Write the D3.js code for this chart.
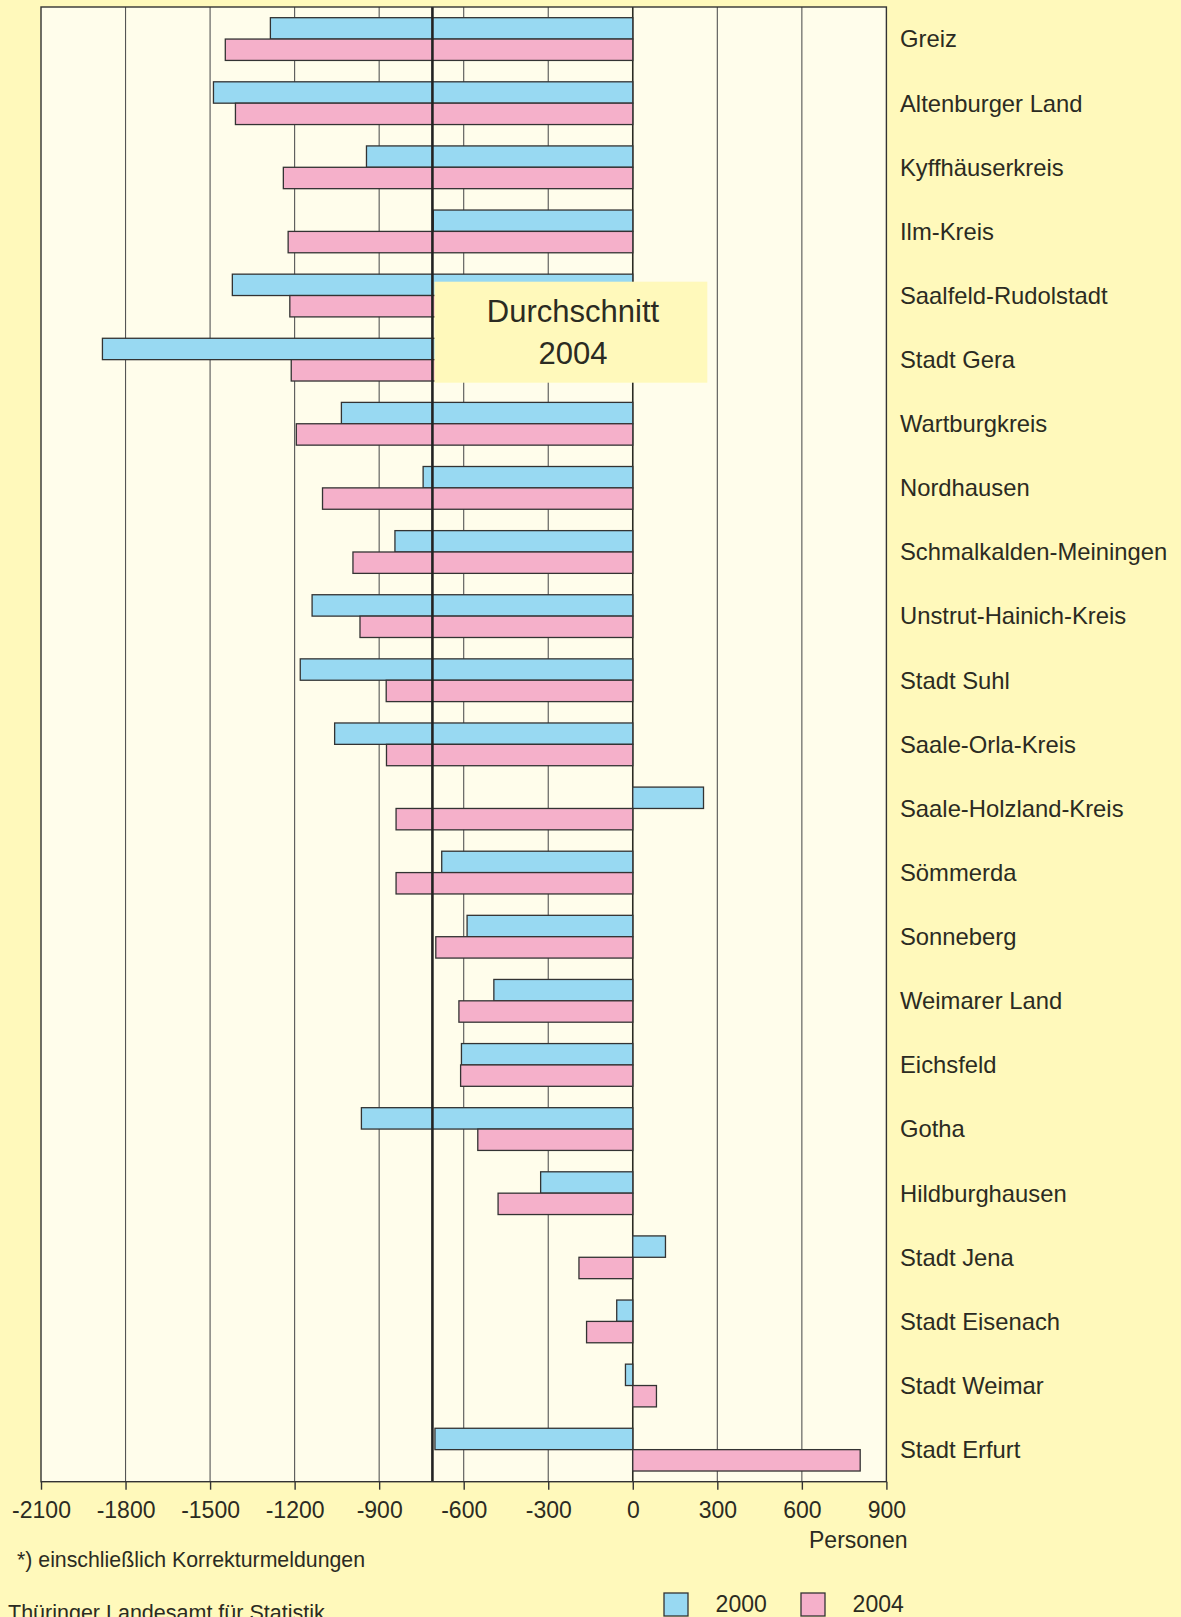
<!DOCTYPE html>
<html>
<head>
<meta charset="utf-8">
<script src="https://cdn.jsdelivr.net/npm/d3@7"></script>
<style>
  body { margin: 0; background: #fff9bb; }
  svg { display: block; font-family: "Liberation Sans", Arial, Helvetica, sans-serif; }
</style>
</head>
<body>
<div id="chart"></div>
<script>
// Wanderungssaldo nach Kreisen, 2000 und 2004
var categories = ["Greiz", "Altenburger Land", "Kyffhäuserkreis", "Ilm-Kreis",
  "Saalfeld-Rudolstadt", "Stadt Gera", "Wartburgkreis", "Nordhausen",
  "Schmalkalden-Meiningen", "Unstrut-Hainich-Kreis", "Stadt Suhl", "Saale-Orla-Kreis",
  "Saale-Holzland-Kreis", "Sömmerda", "Sonneberg", "Weimarer Land", "Eichsfeld",
  "Gotha", "Hildburghausen", "Stadt Jena", "Stadt Eisenach", "Stadt Weimar", "Stadt Erfurt"];
var values2000 = [-1286, -1488, -945, -708, -1421, -1882, -1034, -744, -844, -1138, -1180, -1058,
  251, -678, -588, -493, -608, -963, -327, 116, -57, -26, -702];
var values2004 = [-1446, -1410, -1240, -1223, -1217, -1212, -1194, -1101, -993, -968, -875, -874,
  -840, -840, -699, -617, -611, -550, -478, -191, -164, 84, 807];
var series = ["2000", "2004"];
var tickValues = [-2100, -1800, -1500, -1200, -900, -600, -300, 0, 300, 600, 900];
var average2004 = -711;

var width = 1181, height = 1617;
var plot = {left: 41, right: 886.4, top: 7, bottom: 1481.7};
var colors = {"2000": "#98d9f2", "2004": "#f5b0ca"};
var ink = "#2b2b22";

var svg = d3.select("#chart").append("svg")
  .attr("width", width).attr("height", height);

svg.append("rect").attr("width", width).attr("height", height).attr("fill", "#fff9bb");

var x = d3.scaleLinear().domain([-2100, 900]).range([plot.left, plot.right]);
var y = d3.scaleBand().domain(categories).range([plot.top, plot.bottom])
  .paddingInner(1 / 3).paddingOuter(1 / 6);
var ySub = d3.scaleBand().domain(series).range([0, y.bandwidth()]);

// plot background
svg.append("rect")
  .attr("x", plot.left).attr("y", plot.top)
  .attr("width", plot.right - plot.left).attr("height", plot.bottom - plot.top)
  .attr("fill", "#fffdeb");

// grid lines
svg.append("g").selectAll("line")
  .data(tickValues.slice(1, -1))
  .enter().append("line")
  .attr("x1", function(d) { return x(d); })
  .attr("x2", function(d) { return x(d); })
  .attr("y1", plot.top).attr("y2", plot.bottom)
  .attr("stroke", function(d) { return d === 0 ? "#2b2b22" : "#555"; })
  .attr("stroke-width", function(d) { return d === 0 ? 1.6 : 1.1; });

var rows = categories.map(function(c, i) {
  return {name: c, "2000": values2000[i], "2004": values2004[i]};
});

var groups = svg.append("g").selectAll("g")
  .data(rows)
  .enter().append("g")
  .attr("transform", function(d) { return "translate(0," + y(d.name) + ")"; });

groups.selectAll("rect")
  .data(function(d) { return series.map(function(s) { return {key: s, value: d[s]}; }); })
  .enter().append("rect")
  .attr("x", function(d) { return x(Math.min(0, d.value)); })
  .attr("y", function(d) { return ySub(d.key); })
  .attr("width", function(d) { return Math.abs(x(d.value) - x(0)); })
  .attr("height", ySub.bandwidth())
  .attr("fill", function(d) { return colors[d.key]; })
  .attr("stroke", "#333")
  .attr("stroke-width", 1.3);

// average line
svg.append("line")
  .attr("x1", x(average2004)).attr("x2", x(average2004))
  .attr("y1", plot.top).attr("y2", plot.bottom)
  .attr("stroke", "#222").attr("stroke-width", 2.6);

// frame
svg.append("rect")
  .attr("x", plot.left).attr("y", plot.top)
  .attr("width", plot.right - plot.left).attr("height", plot.bottom - plot.top)
  .attr("fill", "none").attr("stroke", "#333").attr("stroke-width", 1.4);

// average label box
var boxX = x(average2004) + 2;
svg.append("rect")
  .attr("x", boxX).attr("y", 281.7)
  .attr("width", 707.3 - boxX).attr("height", 101)
  .attr("fill", "#fff9bb");
svg.append("text")
  .attr("x", 573).attr("y", 321.7)
  .attr("text-anchor", "middle").attr("font-size", 31).attr("fill", ink)
  .text("Durchschnitt");
svg.append("text")
  .attr("x", 573).attr("y", 364)
  .attr("text-anchor", "middle").attr("font-size", 31).attr("fill", ink)
  .text("2004");

// x axis
var xAxis = d3.axisBottom(x).tickValues(tickValues)
  .tickFormat(function(d) { return String(d); })
  .tickSize(8).tickSizeOuter(0).tickPadding(12);
var gx = svg.append("g")
  .attr("transform", "translate(0," + plot.bottom + ")")
  .call(xAxis);
gx.select(".domain").remove();
gx.selectAll(".tick line").attr("stroke", "#333").attr("stroke-width", 1.4);
gx.selectAll(".tick text")
  .attr("font-size", 23).attr("fill", ink)
  .attr("font-family", "Liberation Sans, Arial, sans-serif");

svg.append("text")
  .attr("x", 907.5).attr("y", 1548.3)
  .attr("text-anchor", "end").attr("font-size", 23).attr("fill", ink)
  .text("Personen");

// category labels
svg.append("g").selectAll("text")
  .data(categories)
  .enter().append("text")
  .attr("x", 900)
  .attr("y", function(d) { return y(d) + y.bandwidth() / 2; })
  .attr("dy", "0.35em")
  .attr("font-size", 23.8).attr("fill", ink)
  .text(function(d) { return d; });

// legend
var legend = svg.append("g").selectAll("g")
  .data(series)
  .enter().append("g")
  .attr("transform", function(d, i) { return "translate(" + (664 + i * 137) + ",1593)"; });
legend.append("rect")
  .attr("width", 24).attr("height", 23)
  .attr("fill", function(d) { return colors[d]; })
  .attr("stroke", "#333").attr("stroke-width", 1.3);
legend.append("text")
  .attr("x", 51.6).attr("y", 18.5)
  .attr("font-size", 23).attr("fill", ink)
  .text(function(d) { return d; });

// notes
svg.append("text")
  .attr("x", 17).attr("y", 1567)
  .attr("font-size", 21.3).attr("fill", ink)
  .text("*) einschließlich Korrekturmeldungen");
svg.append("text")
  .attr("x", 8).attr("y", 1620)
  .attr("font-size", 21.5).attr("fill", ink)
  .text("Thüringer Landesamt für Statistik");
</script>
</body>
</html>
